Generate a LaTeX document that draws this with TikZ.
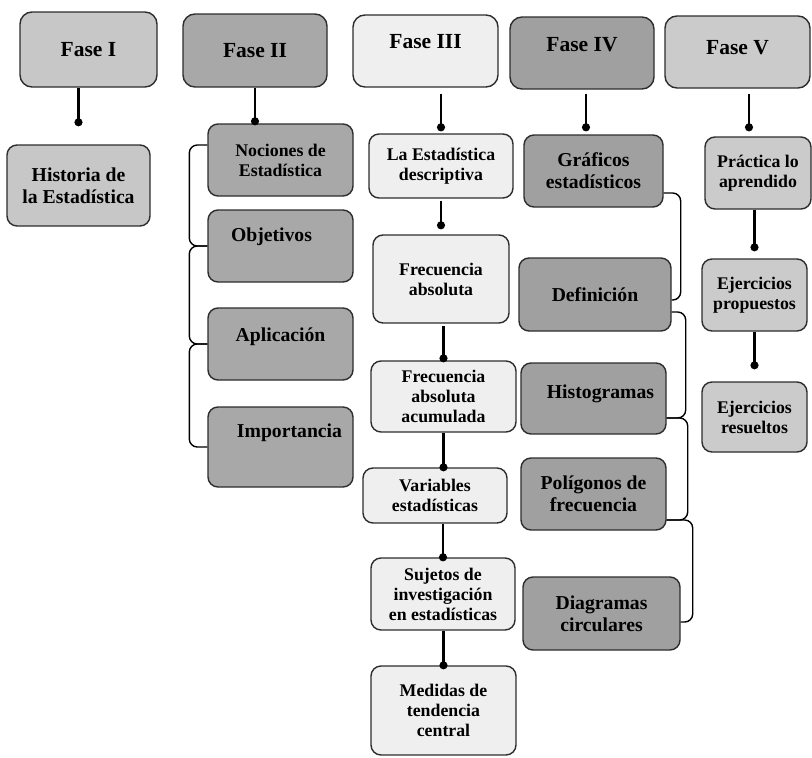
\documentclass[tikz,border=0pt]{standalone}
\usepackage{fontspec}
\setmainfont{Liberation Serif}
\usetikzlibrary{arrows.meta}
\definecolor{faseI}{RGB}{199,199,199}
\definecolor{faseII}{RGB}{168,168,168}
\definecolor{faseIII}{RGB}{239,239,239}
\definecolor{faseIV}{RGB}{160,160,160}
\definecolor{faseV}{RGB}{203,203,203}
\definecolor{rand}{RGB}{45,45,45}

\begin{document}
\begin{tikzpicture}[x=1pt, y=-1pt,
    tF/.style={font=\bfseries\fontsize{21.5}{24}\selectfont, align=center},
    tM/.style={font=\bfseries\fontsize{19.7}{22}\selectfont, align=center},
    tS/.style={font=\bfseries\fontsize{17.8}{20}\selectfont, align=center},
    box/.style={draw=rand, line width=1.4pt, fill=#1, rounded corners=10pt, inner sep=2pt},
    fase/.style={box=#1, tF, rounded corners=12pt, minimum width=144pt, minimum height=72pt},
    wh/.style 2 args={minimum width=#1pt, minimum height=#2pt},
    stem/.style={line width=2.2pt, -{Circle[length=8pt]}},
    brace/.style={line width=1.4pt, rounded corners=8pt}]

    \useasboundingbox (0,0) rectangle (812,758);

    % Fase I
    \node[fase=faseI, wh={137}{75}] (f1) at (88.5,49.5) {Fase I};
    \node[box=faseI, tM, wh={143}{81}] (hist) at (78.5,185.5) {Historia de\\la Estadística};
    \draw[stem, shorten >=18pt] (f1.south -| hist.north) -- (hist.north);

    % Fase II
    \node[fase=faseII, wh={144}{73}] (f2) at (255,50.5) {Fase II};
    \node[box=faseII, tS, wh={145}{72}] (noc) at (280.5,160) {Nociones de\\Estadística};
    \node[box=faseII, wh={145}{72}, label={[tM, shift={(-9,-9)}]center:Objetivos}] (obj) at (280.5,246) {};
    \node[box=faseII, wh={145}{72}, label={[tM, shift={(0,-7)}]center:Aplicación}] (apl) at (280.5,344) {};
    \node[box=faseII, wh={145}{80}, label={[tM, shift={(9,-14)}]center:Importancia}] (imp) at (280.5,447) {};
    \draw[stem, shorten >=-2pt] (f2.south) -- (f2.south |- noc.north);
    \draw[brace] ([yshift=15pt]noc.west) -| ([xshift=-18pt]obj.west) -- (obj.west);
    \draw[brace] (obj.west) -| ([xshift=-18pt]apl.west) -- (apl.west);
    \draw[brace] (apl.west) -| ([xshift=-18pt]imp.west) -- (imp.west);

    % Fase III
    \node[fase=faseIII, wh={145}{72}, label={[tF, shift={(0,-9)}]center:Fase III}] (f3) at (425.5,51) {};
    \node[box=faseIII, tS, wh={144}{64}] (led) at (441,166) {La Estadística\\descriptiva};
    \node[box=faseIII, tS, wh={136}{88}] (fabs) at (441,279) {Frecuencia\\absoluta};
    \node[box=faseIII, tS, wh={145}{71}] (facu) at (443.5,396.5) {Frecuencia\\absoluta\\acumulada};
    \node[box=faseIII, tS, wh={144}{55}] (var) at (435,495.5) {Variables\\estadísticas};
    \node[box=faseIII, tS, wh={144}{72}] (suj) at (443,594) {Sujetos de\\investigación\\en estadísticas};
    \node[box=faseIII, tS, wh={145}{89}] (med) at (443.5,710.5) {Medidas de\\tendencia\\central};
    \draw[stem, shorten <=6pt, shorten >=2pt] (f3.south -| led.north) -- (led.north);
    \draw[stem, shorten <=2pt, shorten >=5pt] (led.south) -- (fabs.north);
    \draw[stem, shorten <=2pt, shorten >=-2pt] (fabs.south -| facu.north) -- (facu.north);
    \draw[stem, shorten >=-4pt] (facu.south) -- (facu.south |- var.north);
    \draw[stem, shorten >=-4pt] (var.south -| suj.north) -- (suj.north);
    \draw[stem, shorten >=-4pt] (suj.south -| med.north) -- (med.north);

    % Fase IV
    \node[fase=faseIV, wh={144}{72}, label={[tF, shift={(0,-8)}]center:Fase IV}] (f4) at (582,53) {};
    \node[box=faseIV, tM, wh={139}{72}] (graf) at (593.5,171) {Gráficos\\estadísticos};
    \node[box=faseIV, tM, wh={152}{73}] (def) at (595,294.5) {Definición};
    \node[box=faseIV, wh={145}{71}, label={[tM, shift={(7,-5)}]center:Histogramas}] (histo) at (593.5,398.5) {};
    \node[box=faseIV, tM, wh={145}{72}] (pol) at (593.5,494) {Polígonos de\\frecuencia};
    \node[box=faseIV, tM, wh={157}{73}] (diag) at (601.5,613.5) {Diagramas\\circulares};
    \coordinate (f4s) at ([xshift=4pt]f4.south);
    \draw[stem, shorten <=4pt, shorten >=3pt] (f4s) -- (f4s |- graf.north);
    \draw[brace] ([yshift=-22pt]graf.east) -| ([shift={(9,5.5)}]def.east) -- ([yshift=-5.5pt]def.east);
    \draw[brace] ([yshift=-17.5pt]def.east) -| ([shift={(19,19.5)}]histo.east) -- ([yshift=-19.5pt]histo.east);
    \draw[brace] ([yshift=-19.5pt]histo.east) -| ([shift={(21,26)}]pol.east) -- ([yshift=-26pt]pol.east);
    \draw[brace] ([yshift=-26pt]pol.east) -| ([shift={(12,8.5)}]diag.east) -- ([yshift=-8.5pt]diag.east);

    % Fase V
    \node[fase=faseV, wh={145}{72}, label={[tF, shift={(0,-4)}]center:Fase V}] (f5) at (737.5,52) {};
    \node[box=faseV, tS, wh={106}{72}] (prac) at (758,173) {Práctica lo\\aprendido};
    \node[box=faseV, tS, wh={105}{72}] (prop) at (754.5,295) {Ejercicios\\propuestos};
    \node[box=faseV, tS, wh={105}{70}] (res) at (754.5,417) {Ejercicios\\resueltos};
    \coordinate (f5s) at ([xshift=11.5pt]f5.south);
    \draw[stem, shorten <=5pt, shorten >=5pt] (f5s) -- (f5s |- prac.north);
    \draw[stem, shorten >=7pt] (prac.south -| prop.north) -- (prop.north);
    \draw[stem, shorten >=12pt] (prop.south) -- (res.north);

\end{tikzpicture}
\end{document}
